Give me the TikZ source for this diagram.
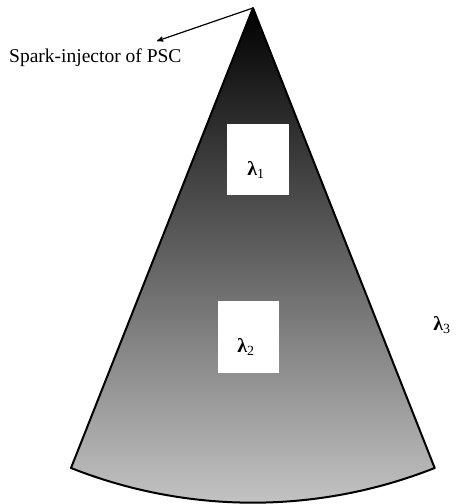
\documentclass[tikz,border=0pt]{standalone}
\usepackage{fontspec}
\setmainfont{Liberation Serif}
\usetikzlibrary{arrows,positioning,calc}

\begin{document}
\begin{tikzpicture}[x=1pt, y=1pt, >=stealth',
		zone/.style={fill=white, inner sep=0pt, minimum width=62pt, minimum height=71pt},
		lam/.style={inner sep=0pt, font=\fontsize{20}{24}\selectfont}
		]
		\useasboundingbox (0,0) rectangle (456,504);

		% Flame cone
		\coordinate (apex) at (253,496);
		\coordinate (left) at (71,36);
		\coordinate (right) at (435,36);
		\draw[line width=2pt, line join=round,
			top color=black, middle color=black!72, bottom color=black!22
			] (apex) -- (left) arc[start angle=248.4, end angle=291.6, radius=494pt] -- cycle;

		% Zones
		\node[zone] (z1) at (258,344.5) {};
		\node[lam] (l1) at (256,334) {\textbf{λ}\textsubscript{1}};
		\node[zone, minimum width=61pt, minimum height=72pt] (z2) at (248.5,167) {};
		\node[lam] (l2) at (246,157) {\textbf{λ}\textsubscript{2}};
		\node[lam] (l3) at (442,179) {\textbf{λ}\textsubscript{3}};

		% Injector
		\coordinate (tip) at (157,463);
		\node[anchor=base west, inner sep=0pt, font=\fontsize{19.5}{23}\selectfont] (inj) at (9,441) {Spark-injector of PSC};
		\draw[->, line width=1.2pt] (apex) -- (tip);
	\end{tikzpicture}
\end{document}
